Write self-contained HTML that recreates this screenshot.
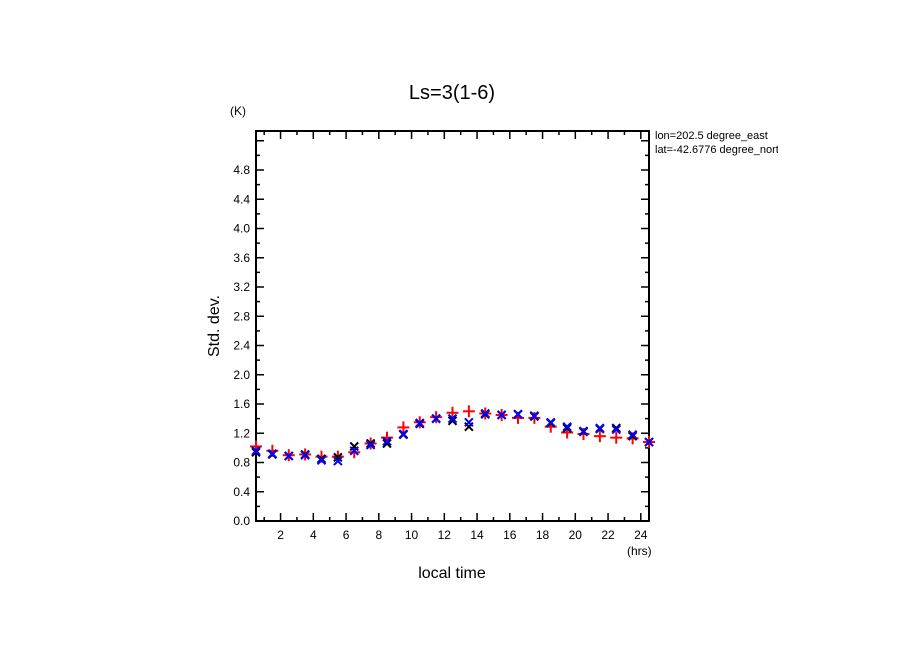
<!DOCTYPE html>
<html><head><meta charset="utf-8"><style>
body{margin:0;background:#fff;}
svg text{font-family:"Liberation Sans",sans-serif;fill:#000;}
</style></head><body>
<svg id="chart" width="904" height="654">
<defs><clipPath id="infoclip"><rect x="650" y="120" width="128" height="50"/></clipPath></defs>
<text x="452" y="99" font-size="20" text-anchor="middle">Ls=3(1-6)</text>
<text x="230" y="115" font-size="12">(K)</text>
<text x="627" y="555" font-size="12">(hrs)</text>
<text x="452" y="578" font-size="16" text-anchor="middle">local time</text>
<text transform="translate(219,326) rotate(-90)" font-size="16" text-anchor="middle">Std. dev.</text>
<g clip-path="url(#infoclip)">
<text x="655" y="139" font-size="11">lon=202.5 degree_east</text>
<text x="655" y="153" font-size="11">lat=-42.6776 degree_north</text>
</g>
<g id="axes"></g><g id="marks"></g>
</svg>
<script>
const hours=[0.5,1.5,2.5,3.5,4.5,5.5,6.5,7.5,8.5,9.5,10.5,11.5,12.5,13.5,14.5,15.5,16.5,17.5,18.5,19.5,20.5,21.5,22.5,23.5,24.5];
const redVals=[1.02,0.96,0.90,0.91,0.88,0.88,0.94,1.06,1.14,1.28,1.35,1.42,1.48,1.50,1.47,1.45,1.41,1.41,1.29,1.21,1.19,1.16,1.14,1.13,1.08];
const blackVals=[0.94,0.91,0.89,0.91,0.85,0.87,1.02,1.06,1.06,1.18,1.33,1.40,1.37,1.29,1.46,1.45,1.46,1.43,1.34,1.27,1.22,1.26,1.27,1.16,1.08];
const blueVals=[0.96,0.92,0.89,0.90,0.83,0.82,0.96,1.04,1.09,1.19,1.34,1.40,1.40,1.35,1.47,1.45,1.46,1.44,1.35,1.29,1.23,1.27,1.25,1.18,1.08];
const yTicks=[0,0.4,0.8,1.2,1.6,2.0,2.4,2.8,3.2,3.6,4.0,4.4,4.8];
const xTicks=[2,4,6,8,10,12,14,16,18,20,22,24];
const L=256,R=649,T=131,B=521;
const X=h=>L+(h-0.5)*(R-L)/24;
const Y=v=>B-v*73.125;
const NS='http://www.w3.org/2000/svg';
function mk(tag,attrs,parent){const e=document.createElementNS(NS,tag);for(const k in attrs)e.setAttribute(k,attrs[k]);parent.appendChild(e);return e;}
const ax=document.getElementById('axes'),mg=document.getElementById('marks');
const frame=mk('rect',{x:L,y:T,width:R-L,height:B-T,fill:'none',stroke:'#000','stroke-width':2},ax);


for(let v=0;v<=5.3;v+=0.2){const y=Y(v);const major=Math.round(v*10)%4===0;const len=major?8:4;
mk('line',{x1:L,x2:L+len,y1:y,y2:y,stroke:'#000','stroke-width':1.5},ax);
mk('line',{x1:R,x2:R-len,y1:y,y2:y,stroke:'#000','stroke-width':1.5},ax);}
for(let h=1;h<=24;h++){const x=X(h);const len=h%2===0?8:4;
mk('line',{x1:x,x2:x,y1:B,y2:B-len,stroke:'#000','stroke-width':1.5},ax);
mk('line',{x1:x,x2:x,y1:T,y2:T+len,stroke:'#000','stroke-width':1.5},ax);}
yTicks.forEach(v=>{const t=mk('text',{x:L-6,y:Y(v)+4,'font-size':12,'text-anchor':'end'},ax);t.textContent=v.toFixed(1);

});
xTicks.forEach(h=>{const t=mk('text',{x:X(h),y:B+18,'font-size':12,'text-anchor':'middle'},ax);t.textContent=h;

});
function plus(x,y,c){const g=mk('g',{stroke:c,'stroke-width':2},mg);mk('line',{x1:x-6,x2:x+6,y1:y,y2:y},g);mk('line',{x1:x,x2:x,y1:y-6,y2:y+6},g);return g;}
function cross(x,y,c){const g=mk('g',{stroke:c,'stroke-width':2},mg);mk('line',{x1:x-4,x2:x+4,y1:y-4,y2:y+4},g);mk('line',{x1:x-4,x2:x+4,y1:y+4,y2:y-4},g);return g;}
hours.forEach((h,i)=>{
const r=plus(X(h),Y(redVals[i]),'#f00');


const k=cross(X(h),Y(blackVals[i]),'#000');


const b=cross(X(h),Y(blueVals[i]),'#00f');


});
</script>
</body></html>
